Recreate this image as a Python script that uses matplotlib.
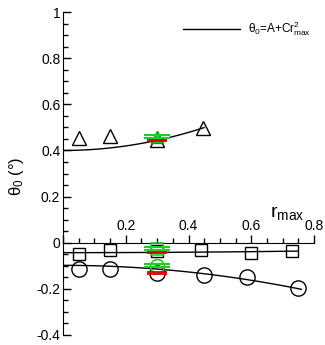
import numpy as np
import matplotlib
matplotlib.use("Agg")
import matplotlib.pyplot as plt
from matplotlib.ticker import MultipleLocator

plt.rcParams['font.family'] = ['Liberation Sans', 'DejaVu Sans']
plt.rcParams['mathtext.fontset'] = 'custom'
plt.rcParams['mathtext.rm'] = 'Liberation Sans'
plt.rcParams['mathtext.it'] = 'Liberation Sans'

# ─── Datos ────────────────────────────────────────────────────────────────────
tri_r = [0.05, 0.15, 0.30, 0.445]
tri_theta = [0.452, 0.463, 0.445, 0.499]
sq_r = [0.05, 0.15, 0.30, 0.44, 0.60, 0.73]
sq_theta = [-0.048, -0.033, -0.036, -0.031, -0.043, -0.036]
circ_r = [0.05, 0.15, 0.30, 0.45, 0.585, 0.75]
circ_theta = [-0.115, -0.115, -0.130, -0.138, -0.148, -0.198]

# ajuste theta0 = A + C r^2 (A, C, r final)
fits = [(0.400, 0.49, 0.45), (-0.043, 0.012, 0.75), (-0.098, -0.18, 0.76)]

# punto de referencia en r = 0.3 (verde) y bandas verde / roja
ref_r = 0.30
green_tri, green_sq, green_circ = 0.460, -0.026, -0.100
green_bands = [(0.468, 0.455), (-0.018, -0.032), (-0.094, -0.104)]
red_bands = [(0.447, 0.440), (-0.042, -0.046), (-0.127, -0.136)]

yticks = [-0.4, -0.2, 0, 0.2, 0.4, 0.6, 0.8, 1.0]
ytick_labels = ['-0.4', '-0.2', '0', '0.2', '0.4', '0.6', '0.8', '1']
xticks = [0, 0.2, 0.4, 0.6, 0.8]
xtick_labels = ['', '0.2', '0.4', '0.6', '0.8']

# ─── Figura ───────────────────────────────────────────────────────────────────
fig = plt.figure(figsize=(3.25, 3.45), dpi=100, facecolor='white')
ax = fig.add_axes([0.194, 0.029, 0.772, 0.936])
ax.set_xlim(0, 0.8)
ax.set_ylim(-0.4, 1.0)

for A, C, rend in fits:
    rr = np.linspace(0, rend, 100)
    ax.plot(rr, A + C * rr**2, color='black', lw=1.0, zorder=2)

mk = dict(linestyle='none', markerfacecolor='none', markeredgecolor='black', markeredgewidth=1.0, zorder=3)
ax.plot(tri_r, tri_theta, marker='^', markersize=10, **mk)
ax.plot(sq_r, sq_theta, marker='s', markersize=9, **mk)
ax.plot(circ_r, circ_theta, marker='o', markersize=11, **mk)

# puntos verdes
ax.plot([ref_r], [green_tri], marker='^', markersize=8, linestyle='none',
        markerfacecolor='#33cc33', markeredgecolor='#009900', markeredgewidth=1.0, zorder=4)
ax.plot([ref_r], [green_sq], marker='s', markersize=8, linestyle='none',
        markerfacecolor='none', markeredgecolor='#22cc22', markeredgewidth=1.2, zorder=4)
ax.plot([ref_r], [green_circ], marker='o', markersize=10, linestyle='none',
        markerfacecolor='none', markeredgecolor='#22cc22', markeredgewidth=1.2, zorder=4)

for hi, lo in green_bands:
    ax.hlines([hi, lo], ref_r - 0.042, ref_r + 0.042, color='#22cc22', lw=1.5, zorder=5)
for hi, lo in red_bands:
    ax.hlines([hi, lo], ref_r - 0.032, ref_r + 0.032, color='#dd0000', lw=1.3, zorder=5)

# ─── Ejes ─────────────────────────────────────────────────────────────────────
ax.spines['right'].set_visible(False)
ax.spines['bottom'].set_visible(False)
ax.spines['top'].set_position(('data', 0))
ax.spines['top'].set_bounds(0, 0.8)
ax.xaxis.set_ticks_position('top')
ax.set_xticks(xticks)
ax.set_xticklabels(xtick_labels)
ax.xaxis.set_minor_locator(MultipleLocator(0.05))
ax.tick_params(axis='x', which='major', direction='out', length=6, width=1, labelsize=10, pad=1)
ax.tick_params(axis='x', which='minor', direction='out', length=3.5, width=1)

ax.set_yticks(yticks)
ax.set_yticklabels(ytick_labels)
ax.yaxis.set_minor_locator(MultipleLocator(0.05))
ax.tick_params(axis='y', which='major', direction='in', length=6, width=1, labelsize=10, pad=2)
ax.tick_params(axis='y', which='minor', direction='in', length=3.5, width=1)

ax.text(0.715, 0.13, r'r$_{\rm max}$', fontsize=14, ha='center', va='center')
fig.text(0.05, 0.49, r'$\theta_0$ ($\degree$)', fontsize=12, rotation=90, ha='center', va='center')

# leyenda
ax.plot([0.383, 0.564], [0.926, 0.926], color='black', lw=1.0)
ax.text(0.59, 0.926, r'$\theta_0$=A+Cr$^2_{\rm max}$', fontsize=8.5, va='center', ha='left')

fig.savefig('out.png', dpi=100, facecolor='white')
